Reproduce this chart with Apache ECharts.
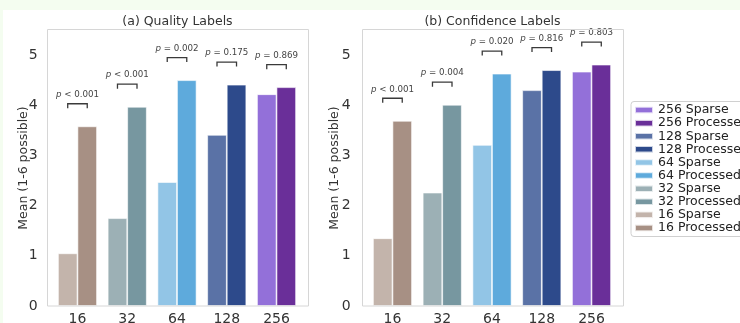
<!DOCTYPE html>
<html><head><meta charset="utf-8">
<script src="https://cdn.jsdelivr.net/npm/echarts@6/dist/echarts.min.js"></script>
<style>html,body{margin:0;padding:0;background:#fff}#c{width:740px;height:323px}</style>
</head><body><div id="c"></div><script>
// ---- data ----
const categories = ['16', '32', '64', '128', '256'];
const qualitySparse = [1.05, 1.75, 2.47, 3.41, 4.22];
const qualityProcessed = [3.58, 3.97, 4.50, 4.41, 4.36];
const confidenceSparse = [1.35, 2.26, 3.21, 4.30, 4.67];
const confidenceProcessed = [3.69, 4.01, 4.63, 4.70, 4.81];
const qualityP = ['< 0.001', '< 0.001', '= 0.002', '= 0.175', '= 0.869'];
const confidenceP = ['< 0.001', '= 0.004', '= 0.020', '= 0.816', '= 0.803'];
const panelTitles = ['(a) Quality Labels', '(b) Confidence Labels'];
const yAxisName = 'Mean (1-6 possible)';
const sparseColors = ['#c3b4ab', '#9cb0b5', '#92c5e6', '#5a72a6', '#9370d9'];
const processedColors = ['#a79084', '#7797a0', '#5eaadc', '#2d4a8b', '#6a2f99'];

// ---- layout ----
const FONT = 'DejaVu Sans';
const frames = [{x: 47, y: 29.5, w: 261, h: 276.5}, {x: 362, y: 29.5, w: 261, h: 276.5}];
const grids = [
  {left: 52.6, top: 30, width: 248.8, height: 276, outerBoundsMode: 'none', containLabel: false},
  {left: 367.6, top: 30, width: 248.8, height: 276, outerBoundsMode: 'none', containLabel: false}
];
const panels = [
  {sp: qualitySparse, pr: qualityProcessed, p: qualityP},
  {sp: confidenceSparse, pr: confidenceProcessed, p: confidenceP}
];

const series = [];
const legendNames = [];
for (let c = categories.length - 1; c >= 0; c--) {
  legendNames.push(categories[c] + ' Sparse', categories[c] + ' Processed');
}
panels.forEach((pan, gi) => {
  for (let c = categories.length - 1; c >= 0; c--) {
    [['Sparse', pan.sp, sparseColors], ['Processed', pan.pr, processedColors]].forEach(([kind, vals, cols]) => {
      series.push({
        type: 'bar', name: categories[c] + ' ' + kind,
        xAxisIndex: gi, yAxisIndex: gi, stack: 'g' + gi + kind,
        barCategoryGap: '21.5%', barGap: '0%',
        data: categories.map((_, i) => i === c ? vals[i] : '-'),
        itemStyle: {color: cols[c], borderColor: 'rgba(255,255,255,0.75)', borderWidth: 0.8},
        emphasis: {disabled: true}, animation: false
      });
    });
  }
  series.push({
    type: 'custom', xAxisIndex: gi, yAxisIndex: gi, animation: false, silent: true,
    data: categories.map((_, i) => [i, Math.max(pan.sp[i], pan.pr[i]) + 0.45]),
    renderItem: (params, api) => {
      const pt = api.coord([api.value(0), api.value(1)]);
      const band = api.size([1, 0])[0];
      const bw = band * 0.3925;
      const x1 = pt[0] - bw / 2, x2 = pt[0] + bw / 2, y = pt[1];
      return {type: 'group', children: [
        {type: 'polyline', shape: {points: [[x1, y + 4.5], [x1, y], [x2, y], [x2, y + 4.5]]},
         style: {stroke: '#3a3a3a', lineWidth: 1.3, fill: null}},
        {type: 'text', style: {text: '{i|p} ' + pan.p[params.dataIndex], x: pt[0], y: y - 9,
          align: 'center', verticalAlign: 'middle', fontSize: 8.7, fontFamily: FONT, fill: '#444',
          rich: {i: {fontStyle: 'italic', fontSize: 8.7, fontFamily: FONT, fill: '#444'}}}}
      ]};
    }
  });
});

const graphic = [
  {type: 'rect', z: -10, shape: {x: 0, y: 0, width: 740, height: 323}, style: {fill: '#f4fdf0'}},
  {type: 'rect', z: -9, shape: {x: 3, y: 10, width: 737, height: 313}, style: {fill: '#ffffff'}}
];
frames.forEach((f, i) => {
  graphic.push({type: 'rect', z: 5, shape: {x: f.x + 0.5, y: f.y, width: f.w, height: f.h},
    style: {fill: null, stroke: '#d6d6d6', lineWidth: 1}});
  graphic.push({type: 'text', z: 5, x: f.x + f.w / 2, y: 21.5,
    style: {text: panelTitles[i], align: 'center', verticalAlign: 'middle', textAlign: 'center', textVerticalAlign: 'middle',
      fontSize: 12.5, fontFamily: FONT, fill: '#333'}});
});

const option = {
  animation: false,
  graphic: graphic,
  grid: grids,
  legend: {
    data: legendNames, orient: 'vertical', left: 631, top: 101.5,
    icon: 'rect', itemWidth: 18, itemHeight: 6.5, itemGap: 0,
    textStyle: {fontSize: 12.5, fontFamily: FONT, color: '#222', lineHeight: 13.1},
    padding: [2, 6, 2, 3], backgroundColor: '#fff', borderColor: '#d0d0d0', borderWidth: 1, borderRadius: 3,
    selectedMode: false
  },
  xAxis: [0, 1].map(gi => ({
    type: 'category', gridIndex: gi, data: categories,
    axisLine: {show: false}, axisTick: {show: false}, splitLine: {show: false},
    axisLabel: {fontSize: 14, fontFamily: FONT, color: '#333', margin: 6}
  })),
  yAxis: [0, 1].map(gi => ({
    type: 'value', gridIndex: gi, min: 0, max: 5.5, interval: 1,
    axisLine: {show: false}, axisTick: {show: false}, splitLine: {show: false},
    axisLabel: {fontSize: 14, fontFamily: FONT, color: '#333', margin: gi === 0 ? 15 : 17, showMaxLabel: false},
    name: yAxisName, nameLocation: 'middle', nameGap: gi === 0 ? 22.5 : 26, nameMoveOverlap: false,
    nameTextStyle: {fontSize: 12.5, fontFamily: FONT, color: '#333'}
  })),
  series: series
};
const chart = echarts.init(document.getElementById('c'), null, {renderer: 'canvas'});
chart.setOption(option);
</script></body></html>
